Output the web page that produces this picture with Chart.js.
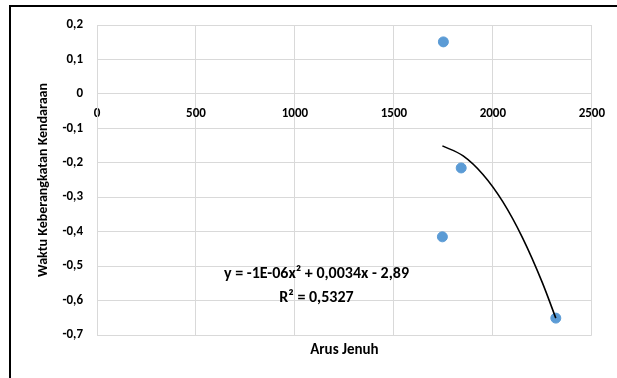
<!DOCTYPE html>
<html>
<head>
<meta charset="utf-8">
<script src="https://cdn.jsdelivr.net/npm/chart.js@4"></script>
<style>
  html, body { margin: 0; padding: 0; background: #fff; }
  #wrap { position: relative; width: 617px; height: 378px; }
</style>
</head>
<body>
<div id="wrap"><canvas id="grafik" width="617" height="378"></canvas></div>
<script>
// titik data (arus jenuh vs waktu keberangkatan)
const arusJenuh = [1750, 1840, 1745, 2318]
const waktuBerangkat = [0.151, -0.215, -0.415, -0.651]

// garis tren polinomial
const trenX = [1745, 1850, 1950, 2050, 2150, 2250, 2318]
const trenY = [-0.151, -0.18, -0.234, -0.313, -0.418, -0.548, -0.651]

const persamaan = 'y = -1E-06x² + 0,0034x - 2,89'
const rKuadrat = 'R² = 0,5327'

const huruf = 'Carlito, Lato, sans-serif'

const bingkai = {
    id: 'bingkai',
    beforeDraw(chart) {
        const ctx = chart.ctx
        ctx.save()
        ctx.strokeStyle = '#000'
        ctx.lineWidth = 2
        ctx.beginPath()
        ctx.moveTo(10, 378)
        ctx.lineTo(10, 6)
        ctx.lineTo(617, 6)
        ctx.stroke()
        ctx.restore()
    },
    afterDraw(chart) {
        const ctx = chart.ctx
        const {x, y} = chart.scales
        const area = chart.chartArea
        ctx.save()
        ctx.fillStyle = '#000'
        ctx.textAlign = 'center'
        ctx.textBaseline = 'middle'
        ctx.font = 'bold 16px ' + huruf
        ctx.fillText(persamaan, x.getPixelForValue(1109), y.getPixelForValue(-0.523))
        ctx.fillText(rKuadrat, x.getPixelForValue(1109), y.getPixelForValue(-0.593))
        ctx.font = 'bold 15px ' + huruf
        ctx.fillText('Arus Jenuh', (area.left + area.right) / 2, 350)
        ctx.restore()
    }
}

new Chart(document.getElementById('grafik'), {
    type: 'scatter',
    data: {
        datasets: [
            {
                label: 'Waktu',
                data: arusJenuh.map((v, i) => ({x: v, y: waktuBerangkat[i]})),
                backgroundColor: '#5b9bd5',
                borderColor: '#5b9bd5',
                pointRadius: 5,
                order: 1
            },
            {
                label: 'Tren',
                data: trenX.map((v, i) => ({x: v, y: trenY[i]})),
                showLine: true,
                borderColor: '#000',
                borderWidth: 1.6,
                pointRadius: 0,
                cubicInterpolationMode: 'monotone',
                order: 0
            }
        ]
    },
    options: {
        responsive: false,
        animation: false,
        layout: {
            padding: {left: 35, top: 25, right: 22, bottom: 43}
        },
        plugins: {
            legend: {display: false},
            tooltip: {enabled: false}
        },
        scales: {
            x: {
                type: 'linear',
                position: {y: 0},
                min: 0,
                max: 2500,
                ticks: {
                    stepSize: 500,
                    color: '#000',
                    padding: 12,
                    maxRotation: 0,
                    font: {family: huruf, size: 13, weight: 'bold'},
                    callback: (v) => String(v)
                },
                grid: {color: '#d9d9d9', drawTicks: false},
                border: {color: '#d9d9d9'}
            },
            y: {
                min: -0.7,
                max: 0.2,
                afterFit: (scale) => { scale.width = 62 },
                ticks: {
                    stepSize: 0.1,
                    color: '#000',
                    padding: 14,
                    font: {family: huruf, size: 13, weight: 'bold'},
                    callback: (v) => (Math.round(v * 10) / 10).toString().replace('.', ',')
                },
                grid: {color: '#d9d9d9', drawTicks: false},
                border: {color: '#d9d9d9'},
                title: {
                    display: true,
                    text: 'Waktu Keberangkatan Kendaraan',
                    color: '#000',
                    padding: 0,
                    font: {family: huruf, size: 14, weight: 'bold'}
                }
            }
        }
    },
    plugins: [bingkai]
})
</script>
</body>
</html>
